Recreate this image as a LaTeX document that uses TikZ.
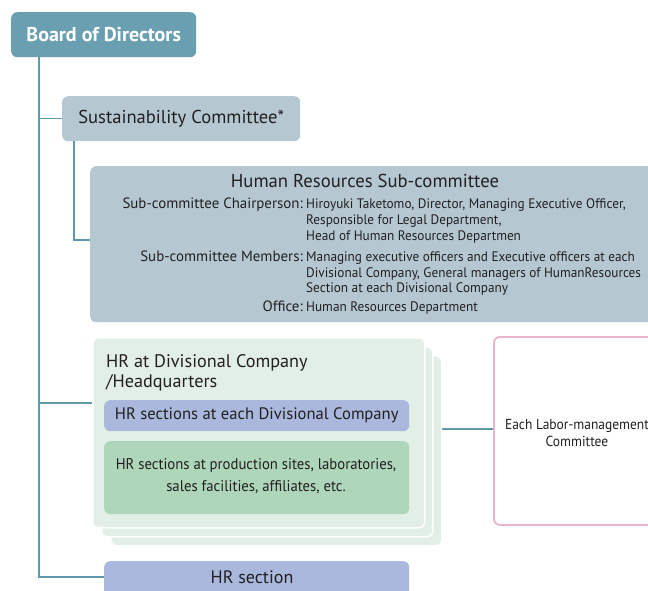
\documentclass[tikz,border=0pt]{standalone}
\usepackage{fontspec}
\setmainfont{PT Sans}
\newfontfamily\condfont[FakeStretch=0.96]{PT Sans}
\newfontfamily\greenfont[FakeStretch=0.95]{PT Sans}
\newfontfamily\laborfont[FakeStretch=0.93]{PT Sans}
\definecolor{boardc}{HTML}{6A9FB1}
\definecolor{committeec}{HTML}{B5C8D2}
\definecolor{linec}{HTML}{5E9AAC}
\definecolor{stackc}{HTML}{E2EFE6}
\definecolor{bluec}{HTML}{A9B8DC}
\definecolor{greenc}{HTML}{AED6BA}
\definecolor{pinkc}{HTML}{E9B5CD}
\definecolor{textc}{HTML}{231F20}
\tikzset{
  boxbase/.style={rounded corners=6pt, inner sep=0pt, anchor=north west, text=textc},
  boardbox/.style={boxbase, fill=boardc, text=white, font=\fontsize{20}{24}\selectfont\bfseries},
  commbox/.style={boxbase, fill=committeec, font=\fontsize{18.6}{22}\selectfont},
  stackbox/.style={boxbase, fill=stackc, draw=white, line width=1.5pt},
  bluebox/.style={boxbase, fill=bluec, font=\fontsize{16.6}{19}\selectfont},
  greenbox/.style={boxbase, fill=greenc},
  pinkbox/.style={boxbase, fill=white, draw=pinkc, line width=1.8pt},
  conn/.style={draw=linec, line width=1.2pt},
  valtxt/.style={inner sep=0pt, anchor=base west, text=textc, font=\fontsize{13.8}{16}\selectfont\condfont},
  labtxt/.style={inner sep=0pt, anchor=base east, text=textc, font=\fontsize{14.9}{17}\selectfont},
  plaintxt/.style={inner sep=0pt, text=textc},
}
\begin{document}
\begin{tikzpicture}[x=1pt,y=-1pt]
\useasboundingbox (0,0) rectangle (648,590);
% boxes
\node[boardbox, minimum width=185pt, minimum height=45pt] (board) at (11,12) {Board of Directors};
\node[commbox, minimum width=238pt, minimum height=45pt] (sust) at (62,96) {Sustainability Committee*};
\node[commbox, minimum width=600pt, minimum height=156pt] (hrsub) at (90,166) {};
% text in sub-committee
\node[plaintxt, font=\fontsize{18.7}{22}\selectfont] (hrsubtitle) at (365,181) {Human Resources Sub-committee};
\node[labtxt] (lchair) at (303,208) {Sub-committee Chairperson:};
\node[valtxt] (vchair1) at (306,208) {Hiroyuki Taketomo, Director, Managing Executive Officer,};
\node[valtxt] (vchair2) at (306,224) {Responsible for Legal Department,};
\node[valtxt] (vchair3) at (306,240) {Head of Human Resources Departmen};
\node[labtxt] (lmem) at (303,261) {Sub-committee Members:};
\node[valtxt] (vmem1) at (306,261) {Managing executive officers and Executive officers at each};
\node[valtxt] (vmem2) at (306,277) {Divisional Company, General managers of HumanResources};
\node[valtxt] (vmem3) at (306,292) {Section at each Divisional Company};
\node[labtxt] (loff) at (303,311) {Office:};
\node[valtxt] (voff) at (306,311) {Human Resources Department};
% stack
\node[stackbox, minimum width=331pt, minimum height=190pt] (stack3) at (110,355) {};
\node[stackbox, minimum width=331pt, minimum height=190pt] (stack2) at (101,346) {};
\node[stackbox, minimum width=332pt, minimum height=190pt] (hrdiv) at (92,337) {};
\node[plaintxt, anchor=base west, font=\fontsize{18.2}{21}\selectfont] (hrdivtitle1) at (106,367) {HR at Divisional Company};
\node[plaintxt, anchor=base west, font=\fontsize{18.2}{21}\selectfont] (hrdivtitle2) at (106,387) {/Headquarters};
\node[bluebox, minimum width=305pt, minimum height=31pt] (hrdivsec) at (104,400) {HR sections at each Divisional Company};
\node[greenbox, minimum width=305pt, minimum height=73pt] (hrprod) at (104,441) {};
\node[plaintxt, align=center, font=\fontsize{15.5}{22}\selectfont\greenfont] (hrprodtxt) at (256,476) {HR sections at production sites, laboratories,\\sales facilities, affiliates, etc.};
\node[pinkbox, minimum width=220pt, minimum height=188pt] (labor) at (493,336) {};
\node[plaintxt, align=center, font=\fontsize{14.5}{17}\selectfont\laborfont] (labortxt) at (577,433) {Each Labor-management\\Committee};
\node[bluebox, minimum width=305pt, minimum height=40pt] (hrsec) at (104,561) {};
\node[plaintxt, font=\fontsize{18}{21}\selectfont] (hrsectxt) at (252,577) {HR section};
% connectors
\coordinate (trunktop) at (39,57);
\coordinate (trunkbot) at (39,577);
\coordinate (subtop) at (74,141);
\coordinate (subjoin) at (90,240);
\coordinate (divjoin) at (92,403);
\coordinate (stackout) at (442,429);
\coordinate (laborin) at (493,429);
\draw[conn] (trunktop) -- (trunkbot) -- (hrsec.west |- trunkbot);
\draw[conn] (trunktop |- sust.west) -- (sust.west);
\draw[conn] (subtop) |- (subjoin);
\draw[conn] (trunktop |- divjoin) -- (divjoin);
\draw[conn] (stackout) -- (laborin);
\end{tikzpicture}
\end{document}
